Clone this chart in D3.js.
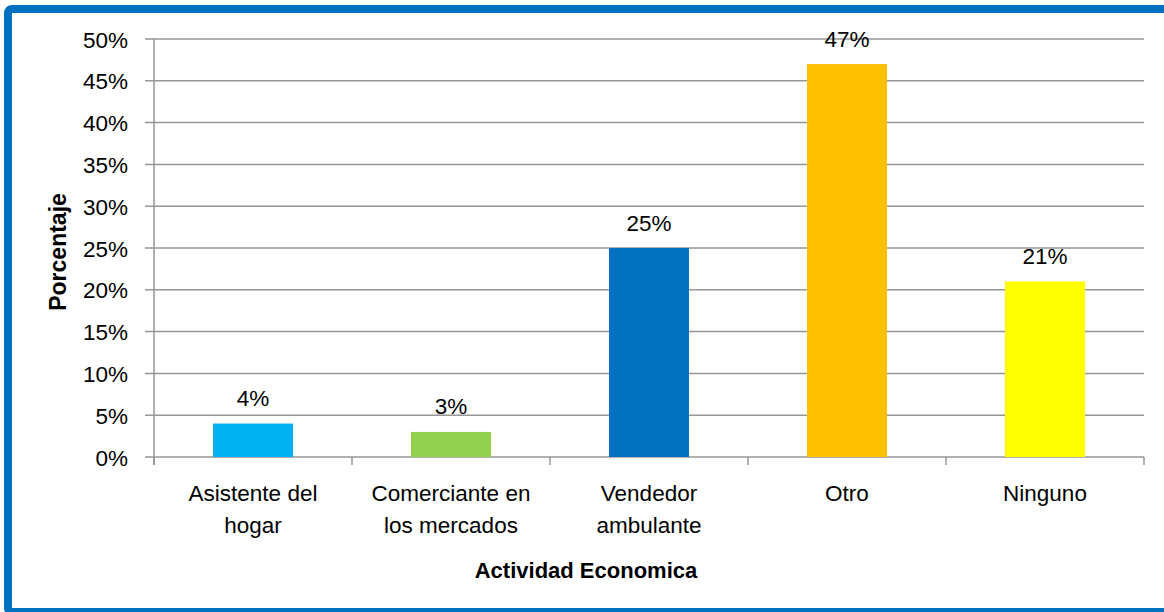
<!DOCTYPE html>
<html>
<head>
<meta charset="utf-8">
<script src="https://cdn.jsdelivr.net/npm/d3@7"></script>
<style>
  html, body { margin: 0; padding: 0; background: #fff; }
  svg text { font-family: "Liberation Sans", Arial, sans-serif; fill: #000; }
</style>
</head>
<body>
<div id="chart"></div>
<script>
// Chart values
const categories = [
    ["Asistente del", "hogar"],
    ["Comerciante en", "los mercados"],
    ["Vendedor", "ambulante"],
    ["Otro"],
    ["Ninguno"]
];
const values = [4, 3, 25, 47, 21];
const barColors = ["#00B0F0", "#92D050", "#0070C0", "#FFC000", "#FFFF00"];
const yTicks = [0, 5, 10, 15, 20, 25, 30, 35, 40, 45, 50];

const width = 1164, height = 612;
const margin = { top: 39, left: 154 };
const plotRight = 1144;
const fontSize = 22.5;

const svg = d3.select("#chart").append("svg")
    .attr("width", width)
    .attr("height", height);

// Blue frame (right side runs off the picture)
svg.append("rect")
    .attr("x", 8)
    .attr("y", 9)
    .attr("width", width + 20)
    .attr("height", 603)
    .attr("rx", 4)
    .attr("fill", "#fff")
    .attr("stroke", "#0070C0")
    .attr("stroke-width", 8);

const x = d3.scaleBand()
    .domain(d3.range(categories.length))
    .range([margin.left, plotRight]);

const y = d3.scaleLinear()
    .domain([0, 50])
    .range([457, margin.top]);

// Gridlines
svg.append("g")
    .selectAll("line")
    .data(yTicks)
    .join("line")
    .attr("x1", margin.left - 9)
    .attr("x2", plotRight)
    .attr("y1", d => y(d))
    .attr("y2", d => y(d))
    .attr("stroke", "#969696")
    .attr("stroke-width", 1.5);

// Y axis
const yAxis = d3.axisLeft(y)
    .tickValues(yTicks)
    .tickSize(0)
    .tickPadding(26)
    .tickFormat(d => d + "%");

svg.append("g")
    .attr("transform", `translate(${margin.left},0)`)
    .call(yAxis)
    .call(g => g.select(".domain").attr("stroke", "#969696").attr("stroke-width", 1.5)
        .attr("d", `M0,${y(50)}V${y(0) + 8}`))
    .call(g => g.selectAll(".tick text")
        .attr("font-size", fontSize)
        .attr("font-family", "Liberation Sans, Arial, sans-serif")
        .attr("dy", "0.36em"));

// X axis category ticks
svg.append("g")
    .selectAll("line")
    .data(d3.range(categories.length + 1))
    .join("line")
    .attr("x1", i => margin.left + i * x.step())
    .attr("x2", i => margin.left + i * x.step())
    .attr("y1", y(0))
    .attr("y2", y(0) + 8)
    .attr("stroke", "#969696")
    .attr("stroke-width", 1.5);

// Bars
const barW = 80;
svg.append("g")
    .selectAll("rect")
    .data(values)
    .join("rect")
    .attr("x", (d, i) => x(i) + x.bandwidth() / 2 - barW / 2)
    .attr("y", d => y(d))
    .attr("width", barW)
    .attr("height", d => y(0) - y(d))
    .attr("fill", (d, i) => barColors[i]);

// Data labels
svg.append("g")
    .selectAll("text")
    .data(values)
    .join("text")
    .attr("x", (d, i) => x(i) + x.bandwidth() / 2)
    .attr("y", d => y(d) - 17.5)
    .attr("text-anchor", "middle")
    .attr("font-size", fontSize)
    .text(d => d + "%");

// Category labels
const catG = svg.append("g")
    .selectAll("text")
    .data(categories)
    .join("text")
    .attr("x", (d, i) => x(i) + x.bandwidth() / 2)
    .attr("y", 501)
    .attr("text-anchor", "middle")
    .attr("font-size", fontSize);
catG.selectAll("tspan")
    .data(d => d)
    .join("tspan")
    .attr("x", function () { return this.parentNode.getAttribute("x"); })
    .attr("dy", (d, i) => i === 0 ? 0 : 32)
    .text(d => d);

// Axis titles
svg.append("text")
    .attr("x", 586)
    .attr("y", 578)
    .attr("text-anchor", "middle")
    .attr("font-size", 22)
    .attr("font-weight", "bold")
    .text("Actividad Economica");

svg.append("text")
    .attr("transform", "translate(66,252) rotate(-90)")
    .attr("text-anchor", "middle")
    .attr("font-size", 23)
    .attr("font-weight", "bold")
    .text("Porcentaje");
</script>
</body>
</html>
